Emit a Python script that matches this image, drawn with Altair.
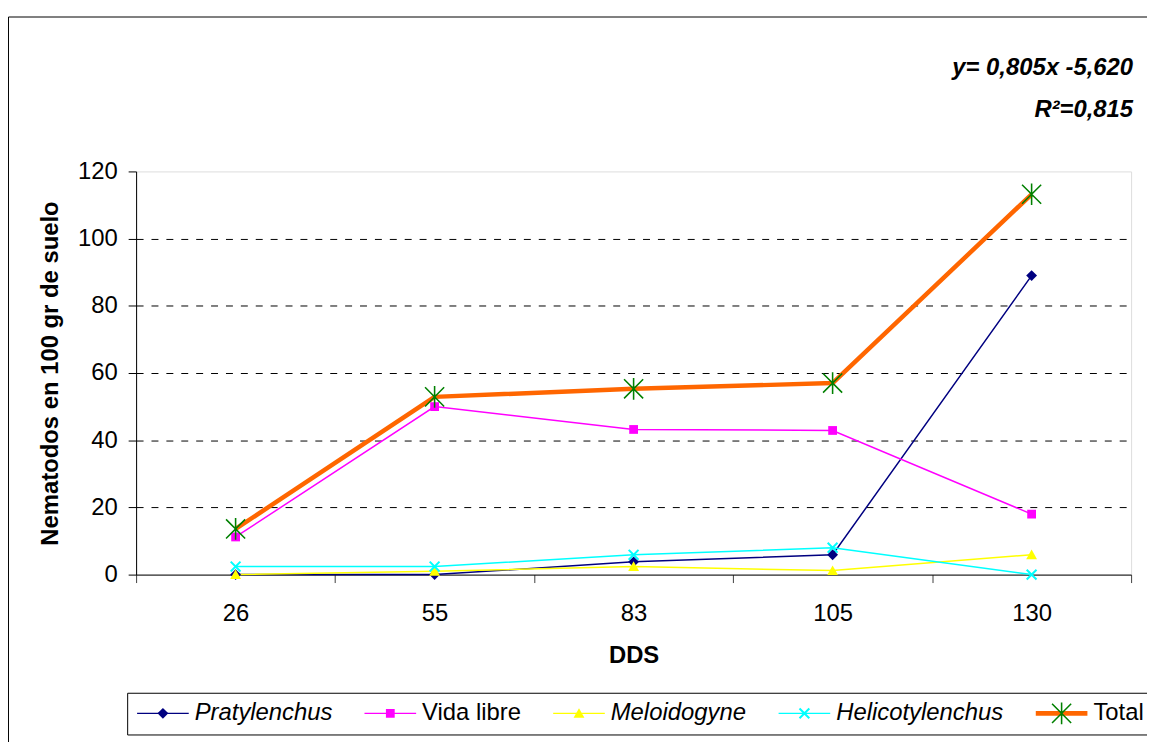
import altair as alt
import pandas as pd

# ---- data ----
dds = ["26", "55", "83", "105", "130"]
series = ["Pratylenchus", "Vida libre", "Meloidogyne", "Helicotylenchus", "Total"]
pratylenchus = [0.0, 0.0, 3.8, 5.9, 89.0]
vida_libre = [11.2, 50.0, 43.2, 42.9, 18.0]
meloidogyne = [0.0, 1.0, 2.4, 1.2, 5.9]
helicotylenchus = [2.4, 2.4, 5.9, 8.0, 0.0]
total = [13.6, 52.9, 55.3, 57.0, 113.2]
y_ticks = [0, 20, 40, 60, 80, 100, 120]
equation = ["y= 0,805x -5,620"]
r_squared = ["R²=0,815"]

# ---- styles ----
line_colors = ["#000080", "#FF00FF", "#FFFF00", "#00FFFF", "#FF6600"]
marker_colors = ["#000080", "#FF00FF", "#FFFF00", "#00FFFF", "#008000"]


def bar(x1, y1, x2, y2, hw):
    """thin filled polygon along a segment (unit symbol space)"""
    dx, dy = x2 - x1, y2 - y1
    n = (dx * dx + dy * dy) ** 0.5
    px, py = -dy / n * hw, dx / n * hw
    pts = [(x1 + px, y1 + py), (x2 + px, y2 + py), (x2 - px, y2 - py), (x1 - px, y1 - py)]
    area = sum(pts[i][0] * pts[(i + 1) % 4][1] - pts[(i + 1) % 4][0] * pts[i][1] for i in range(4))
    if area < 0:
        pts = pts[::-1]
    return "M" + "L".join(f"{x:.3f},{y:.3f}" for x, y in pts) + "Z"


x_marker = bar(-0.19, -0.19, 0.19, 0.19, 0.04) + bar(-0.19, 0.19, 0.19, -0.19, 0.04)
star_marker = (bar(-0.37, -0.37, 0.37, 0.37, 0.03) + bar(-0.37, 0.37, 0.37, -0.37, 0.03)
               + bar(0, -0.42, 0, 0.42, 0.03))
marker_paths = [
    "M0,-0.21L0.21,0L0,0.21L-0.21,0Z",
    "M-0.17,-0.17H0.17V0.17H-0.17Z",
    "M0,-0.2L0.21,0.17L-0.21,0.17Z",
    x_marker,
    star_marker,
]


def per_entry(values):
    expr = f"'{values[-1]}'"
    for name, v in reversed(list(zip(series[:-1], values[:-1]))):
        expr = f"(datum.value == '{name}' ? '{v}' : {expr})"
    return expr


rows = []
for name, vals in zip(series, [pratylenchus, vida_libre, meloidogyne, helicotylenchus, total]):
    for d, v in zip(dds, vals):
        rows.append({"series": name, "serie_m": name, "dds": d, "value": v})
df = pd.DataFrame(rows)

W, H = 1002, 406
FONT = "Liberation Sans"
SYM = 2704

x_enc = alt.X(
    "dds:N", sort=dds,
    scale=alt.Scale(type="band", paddingInner=0, paddingOuter=0),
    axis=alt.Axis(
        title="DDS", labelAngle=0, tickBand="extent", tickSize=8, tickColor="#404040",
        domainColor="black", labelFont=FONT, labelFontSize=24, labelColor="black",
        labelBaseline="alphabetic", labelPadding=38, grid=False,
        titleFont=FONT, titleFontSize=24, titleFontWeight="bold", titleColor="black",
        titleBaseline="alphabetic", titleY=89,
    ),
)
y_enc = alt.Y(
    "value:Q",
    scale=alt.Scale(domain=[0, 120], nice=False),
    axis=alt.Axis(
        values=y_ticks, title="Nematodos en 100 gr de suelo",
        titleFont=FONT, titleFontSize=24, titleFontWeight="bold", titleColor="black",
        titleBaseline="alphabetic", titleX=-79, titleY=H / 2,
        labelFont=FONT, labelFontSize=24, labelColor="black", labelPadding=11,
        tickSize=8, tickColor="black", domainColor="black",
        grid=True, gridColor="black", gridDash=[7, 8], gridWidth=1,
        gridOpacity={"condition": {"test": "datum.value === 0 || datum.value === 120", "value": 0}, "value": 1},
    ),
)

legend_common = dict(
    title=None, orient="none", legendX=-9, legendY=525, direction="horizontal",
    symbolSize=SYM, labelFont=FONT, labelFontSize=24, labelLimit=400,
    labelOffset=5, columnPadding=31, padding=9, clipHeight=23,
    labelFontStyle={"expr": "(datum.value == 'Total' || datum.value == 'Vida libre') ? 'normal' : 'italic'"},
    symbolStrokeWidth={"expr": "(datum.value == 'Total' ? 5 : 1.5)"},
)

# legend 1: the coloured lines and the visible labels
legend_lines = alt.Legend(
    symbolType="stroke", labelColor="black", strokeColor="black",
    **legend_common,
)
# legend 2: the markers, laid out identically on top of legend 1
legend_markers = alt.Legend(
    labelOpacity=0, strokeColor="transparent", symbolStrokeColor="transparent",
    symbolType={"expr": per_entry(marker_paths)},
    **legend_common,
)

color_enc = alt.Color("series:N", sort=series, scale=alt.Scale(domain=series, range=line_colors),
                      legend=legend_lines)

species_lines = alt.Chart(df).transform_filter(
    alt.datum.series != "Total"
).mark_line(strokeWidth=1.5).encode(x=x_enc, y=y_enc, color=color_enc)

total_line = alt.Chart(df).transform_filter(
    alt.datum.series == "Total"
).mark_line(strokeWidth=4.5, strokeJoin="round").encode(x=x_enc, y=y_enc, color=color_enc)

points = alt.Chart(df).mark_point(filled=True, size=SYM, strokeWidth=0, opacity=1).encode(
    x=x_enc, y=y_enc,
    fill=alt.Fill("serie_m:N", sort=series, scale=alt.Scale(range=marker_colors), legend=legend_markers),
    shape=alt.Shape("serie_m:N", sort=series, scale=alt.Scale(range=marker_paths), legend=None),
)

eq_text = alt.Chart(alt.Data(values=[{"t": t} for t in equation])).mark_text(
    align="right", baseline="alphabetic", font=FONT, fontSize=24,
    fontWeight="bold", fontStyle="italic", color="black",
).encode(x=alt.value(1004), y=alt.value(-97), text="t:N")

r2_text = alt.Chart(alt.Data(values=[{"t": t} for t in r_squared])).mark_text(
    align="right", baseline="alphabetic", font=FONT, fontSize=24,
    fontWeight="bold", fontStyle="italic", color="black",
).encode(x=alt.value(1004), y=alt.value(-55), text="t:N")

frame = alt.Chart(alt.Data(values=[{"f": 1}])).mark_rect(
    fill="transparent", stroke="black", strokeWidth=1,
).encode(x=alt.value(-128.5), x2=alt.value(W + 60), y=alt.value(-155.5), y2=alt.value(H + 250))

chart = alt.layer(frame, species_lines, total_line, points, eq_text, r2_text).properties(
    width=W, height=H,
    padding={"left": 129, "top": 162, "right": 16, "bottom": 166},
    autosize=alt.AutoSizeParams(type="none"),
).configure_view(
    stroke="#808080", strokeWidth=1,
).configure(background="white")

chart.save("out.html", embed_options={"renderer": "svg", "actions": False})
